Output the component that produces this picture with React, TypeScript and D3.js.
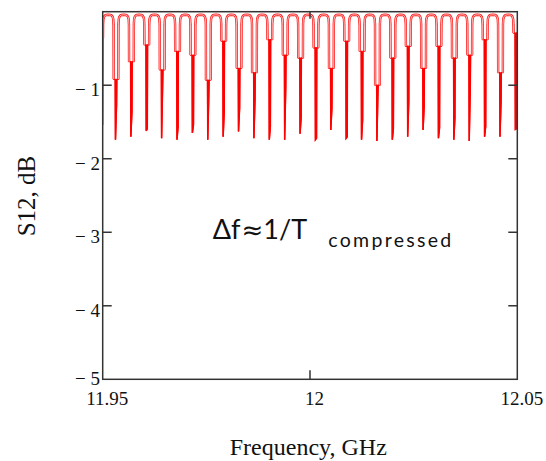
import React from "react";
import * as d3 from "d3";

// Notch centres of the comb response (GHz)
const DIP_GHZ = [
  11.95321, 11.95692, 11.96063, 11.96434, 11.96805, 11.97176, 11.97547,
  11.97918, 11.98289, 11.9866, 11.99031, 11.99402, 11.99773, 12.00144,
  12.00515, 12.00885, 12.01256, 12.01627, 12.01998, 12.02369, 12.0274,
  12.03111, 12.03482, 12.03853, 12.04224, 12.04595, 12.04966,
];
// Level where each notch leaves the arches (dB)
const DIP_SHOULDER_DB = [
  -0.92, -0.68, -0.45, -0.79, -0.54, -0.59, -0.93, -0.4, -0.77, -0.83, -0.38,
  -0.59, -0.63, -0.49, -0.77, -0.4, -0.54, -1.0, -0.63, -0.47, -0.77, -0.47,
  -0.63, -0.59, -0.38, -0.83, -0.29,
];
// Second-lowest sample in each notch (dB)
const DIP_FLOOR_DB = [
  -1.27, -1.36, -1.59, -0.95, -1.56, -1.54, -1.11, -1.36, -1.31, -1.2, -1.56,
  -1.02, -1.44, -1.72, -1.31, -1.7, -1.47, -1.05, -1.59, -1.22, -1.29, -1.58,
  -1.45, -1.02, -1.56, -1.22, -1.59,
];
// Deepest sample in each notch (dB)
const DIP_MIN_DB = [
  -1.74, -1.7, -1.62, -1.72, -1.74, -1.65, -1.74, -1.7, -1.63, -1.72, -1.74,
  -1.74, -1.66, -1.74, -1.61, -1.72, -1.74, -1.76, -1.74, -1.7, -1.61, -1.72,
  -1.74, -1.76, -1.7, -1.7, -1.6,
];
// First two samples at 11.95 GHz (dB)
const EDGE_START_DB = [-1.54, -0.36];
// Arch between two notches: position as a fraction of the period, level in dB
const ARCH_FRAC = [0.16, 0.18, 0.22, 0.28, 0.36, 0.5, 0.64, 0.72, 0.78, 0.82, 0.84];
const ARCH_DB = [-0.17, -0.1, -0.07, -0.052, -0.045, -0.042, -0.045, -0.052, -0.07, -0.1, -0.17];

const X_TICKS = [11.95, 12, 12.05];
const X_TICK_LABELS = ["11.95", "12", "12.05"];
const Y_TICKS = [-1, -2, -3, -4, -5];
const Y_TICK_LABELS = ["\u2212 1", "\u2212 2", "\u2212 3", "\u2212 4", "\u2212 5"];

const W = 546;
const H = 461;
const PLOT = { left: 102.7, right: 517.3, top: 11.7, bottom: 379.3 };

// Geometry of a notch, as fractions of the notch period
const LEG = 0.152;
const SHELF = 0.05;
const TIP = 0.035;

type Pt = [number, number];

export default function App() {
  const x = d3.scaleLinear().domain([11.95, 12.05]).range([PLOT.left, PLOT.right]);
  const y = d3.scaleLinear().domain([0, -5]).range([PLOT.top, PLOT.bottom]);
  const line = d3
    .line<Pt>()
    .x((d) => x(d[0]))
    .y((d) => y(d[1]));

  const n = DIP_GHZ.length;
  const period = (k: number) =>
    k < 0 ? DIP_GHZ[1] - DIP_GHZ[0] : k < n - 1 ? DIP_GHZ[k + 1] - DIP_GHZ[k] : DIP_GHZ[n - 1] - DIP_GHZ[n - 2];
  const centre = (k: number) => (k < 0 ? DIP_GHZ[0] - period(-1) : DIP_GHZ[k]);

  const makeArch = (k: number): Pt[] => {
    const fc = centre(k);
    const p = period(k);
    const leftDb = k < 0 ? EDGE_START_DB[1] : DIP_SHOULDER_DB[k];
    const rightDb = k + 1 < n ? DIP_SHOULDER_DB[k + 1] : DIP_SHOULDER_DB[n - 1];
    return [
      [fc + LEG * p, leftDb],
      ...ARCH_FRAC.map((fr, i) => [fc + fr * p, ARCH_DB[i]] as Pt),
      [fc + (1 - LEG) * p, rightDb],
    ];
  };

  const all: Pt[] = [[11.95, EDGE_START_DB[0]]];
  const arches: Pt[][] = [];
  const spikes: Pt[][] = [];
  const first = makeArch(-1);
  arches.push(first);
  all.push(...first);
  for (let k = 0; k < n; k++) {
    const fk = DIP_GHZ[k];
    const p = period(k);
    const s = DIP_SHOULDER_DB[k];
    const spike: Pt[] = [
      [fk - SHELF * p, s],
      [fk - TIP * p, DIP_MIN_DB[k]],
      [fk + TIP * p, DIP_FLOOR_DB[k]],
      [fk + SHELF * p, s],
    ];
    spikes.push(spike);
    all.push(...spike);
    const a = makeArch(k);
    arches.push(a);
    all.push(...a);
  }

  const serif = "'Liberation Serif', 'Times New Roman', serif";

  return (
    <svg
      width={W}
      height={H}
      style={{ position: "absolute", left: 0, top: 0, background: "#fff" }}
    >
      <defs>
        <clipPath id="plot-clip">
          <rect
            x={PLOT.left}
            y={PLOT.top}
            width={PLOT.right - PLOT.left}
            height={PLOT.bottom - PLOT.top}
          />
        </clipPath>
      </defs>

      <g clipPath="url(#plot-clip)">
        <path d={line(all) ?? ""} fill="none" stroke="#ff0000" strokeWidth={1.3} />
        {spikes.map((s, i) => (
          <path key={`s${i}`} d={line(s) ?? ""} fill="none" stroke="#ff0000" strokeWidth={1.5} />
        ))}
        {arches.map((a, i) => (
          <path key={`w${i}`} d={line(a) ?? ""} fill="none" stroke="#ff1a1a" strokeWidth={2.4} />
        ))}
        {arches.map((a, i) => (
          <path key={`c${i}`} d={line(a) ?? ""} fill="none" stroke="#ffe4e4" strokeWidth={0.8} />
        ))}
      </g>

      {/* frame */}
      <rect
        x={PLOT.left}
        y={PLOT.top}
        width={PLOT.right - PLOT.left}
        height={PLOT.bottom - PLOT.top}
        fill="none"
        stroke="#333"
        strokeWidth={1.5}
      />

      {/* y ticks, inside on both sides */}
      {Y_TICKS.map((t, i) => (
        <g key={`y${t}`}>
          {t > -5 && (
            <>
              <line x1={PLOT.left} x2={PLOT.left + 9} y1={y(t)} y2={y(t)} stroke="#333" strokeWidth={1.5} />
              <line x1={PLOT.right - 9} x2={PLOT.right} y1={y(t)} y2={y(t)} stroke="#333" strokeWidth={1.5} />
            </>
          )}
          <text
            x={100}
            y={Math.min(y(t) + 11, 385)}
            textAnchor="end"
            fontFamily={serif}
            fontSize={19}
            fill="#111"
          >
            {Y_TICK_LABELS[i]}
          </text>
        </g>
      ))}

      {/* x ticks */}
      {X_TICKS.map((t, i) => (
        <g key={`x${t}`}>
          {t > 11.95 && t < 12.05 && (
            <>
              <line x1={x(t)} x2={x(t)} y1={PLOT.bottom} y2={PLOT.bottom - 9} stroke="#333" strokeWidth={1.5} />
              <line x1={x(t)} x2={x(t)} y1={PLOT.top} y2={PLOT.top + 7} stroke="#333" strokeWidth={1.5} />
            </>
          )}
          <text
            x={x(t) + 4.5}
            y={405}
            textAnchor="middle"
            fontFamily={serif}
            fontSize={19}
            fill="#111"
          >
            {X_TICK_LABELS[i]}
          </text>
        </g>
      ))}

      {/* axis titles */}
      <text x={308.3} y={455} textAnchor="middle" fontFamily={serif} fontSize={24} fill="#111">
        Frequency, GHz
      </text>
      <text
        transform="translate(34.5,196) rotate(-90)"
        textAnchor="middle"
        fontFamily={serif}
        fontSize={25}
        fill="#111"
      >
        S12, dB
      </text>

      {/* annotation */}
      <text fontFamily="Lato, 'Open Sans', sans-serif" fill="#111">
        <tspan x={212.7} y={239.3} fontSize={27}>
          Δf
        </tspan>
        <tspan fontSize={26} fontFamily="'DejaVu Sans', sans-serif" dx={1}>
          ≈
        </tspan>
        <tspan fontSize={27}>1/T</tspan>
        <tspan x={328.3} y={246.7} fontSize={19.5} letterSpacing={2.3}>
          compressed
        </tspan>
      </text>
    </svg>
  );
}
